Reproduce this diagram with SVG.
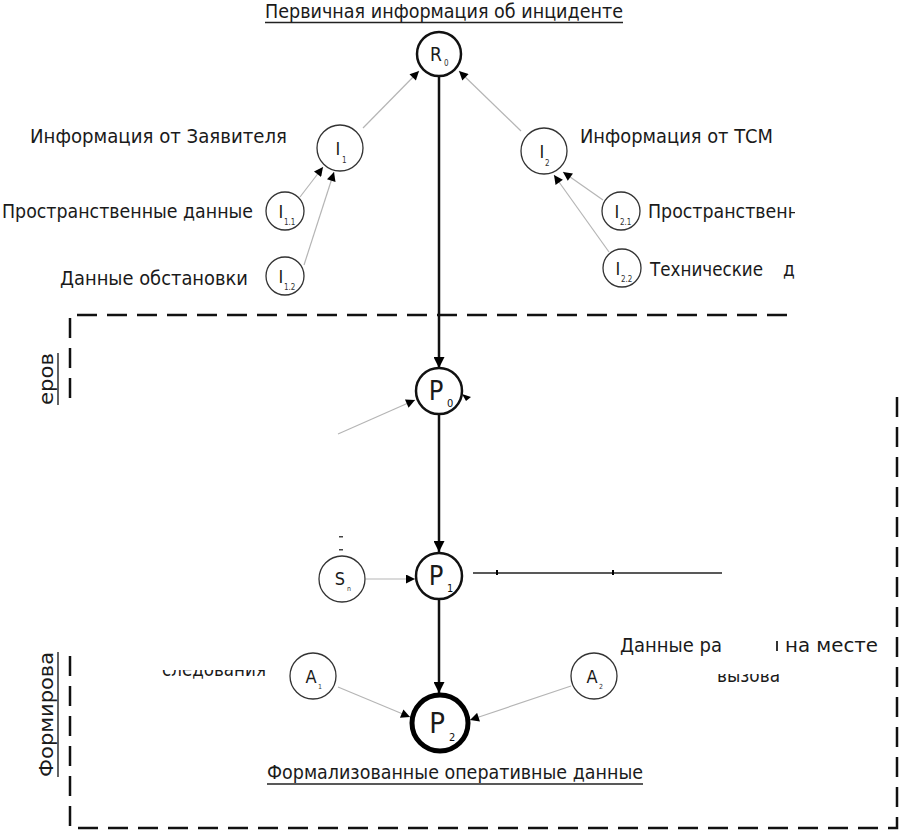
<svg xmlns="http://www.w3.org/2000/svg" width="901" height="832" viewBox="0 0 901 832">
<style>
text{font-family:"DejaVu Sans Condensed","DejaVu Sans","Liberation Sans",sans-serif;fill:#1a1a1a}
.lbl{font-size:19px}
.ttl{font-size:19px}
.main{fill:#fff;stroke:#111;stroke-width:2.5}
.sub{fill:#fff;stroke:#333;stroke-width:1.3}
.big{fill:#fff;stroke:#000;stroke-width:5}
.thin{stroke:#b5b5b5;stroke-width:1.2;fill:none}
.thick{stroke:#111;stroke-width:2.5;fill:none}
.dash{stroke:#111;stroke-width:2.5;fill:none;stroke-dasharray:20 10}
.nR{font-size:19px;text-anchor:middle}
.nP{font-size:27px;text-anchor:middle}
.nP2{font-size:29px;text-anchor:middle}
.ns{font-size:18px;text-anchor:middle}
.sc{font-size:8px;fill:#333}
.sP{font-size:11px;fill:#111}
.sA{font-size:7px;fill:#333}
</style>
<defs>
<marker id="a" viewBox="0 0 10 10" refX="10" refY="5" markerWidth="11" markerHeight="9" markerUnits="userSpaceOnUse" orient="auto"><path d="M0,0 L10,5 L0,10 z" fill="#000"/></marker>
<marker id="b" viewBox="0 0 10 10" refX="10" refY="5" markerWidth="13" markerHeight="11" markerUnits="userSpaceOnUse" orient="auto"><path d="M0,0 L10,5 L0,10 z" fill="#000"/></marker>
<clipPath id="cr"><rect x="0" y="0" width="795" height="832"/></clipPath>
<clipPath id="c1"><rect x="150" y="670" width="130" height="20"/></clipPath>
<clipPath id="c2"><rect x="700" y="674" width="100" height="20"/></clipPath>
</defs>

<g id="frames">
<path class="dash" d="M787,315 H70 V405"/>
<path class="dash" d="M897,397 V828 H70 V655"/>
</g>

<g id="connectors">
<line class="thin" x1="363" y1="128" x2="419" y2="71" marker-end="url(#a)"/>
<line class="thin" x1="521" y1="131" x2="459" y2="71" marker-end="url(#a)"/>
<line class="thin" x1="300" y1="197" x2="323" y2="167" marker-end="url(#a)"/>
<line class="thin" x1="304" y1="265" x2="334" y2="172" marker-end="url(#a)"/>
<line class="thin" x1="603" y1="200" x2="563" y2="172" marker-end="url(#a)"/>
<line class="thin" x1="609" y1="252" x2="554" y2="175" marker-end="url(#a)"/>
<line class="thick" x1="439" y1="76" x2="439" y2="368" marker-end="url(#b)"/>
<line class="thin" x1="338" y1="434" x2="415" y2="400" marker-end="url(#a)"/>
<path d="M471,397 l-9,-3 l4,7 z" fill="#000"/>
<line class="thick" x1="439" y1="415" x2="439" y2="552" marker-end="url(#b)"/>
<line class="thin" x1="366" y1="579" x2="415" y2="579" marker-end="url(#a)"/>
<line stroke="#222" stroke-width="1.6" x1="473" y1="573" x2="722" y2="573"/>
<line stroke="#000" stroke-width="2" x1="497" y1="570" x2="497" y2="575"/>
<line stroke="#000" stroke-width="2" x1="613" y1="570" x2="613" y2="575"/>
<line class="thick" x1="439" y1="600" x2="439" y2="693" marker-end="url(#b)"/>
<line class="thin" x1="338" y1="687" x2="410" y2="717" marker-end="url(#a)"/>
<line class="thin" x1="571" y1="686" x2="470" y2="720" marker-end="url(#a)"/>
</g>

<g id="title">
<text class="ttl" x="265" y="18" textLength="358" lengthAdjust="spacingAndGlyphs">Первичная информация об инциденте</text>
<line x1="265" y1="22.5" x2="623" y2="22.5" stroke="#222" stroke-width="1.4"/>
</g>

<g id="R0"><circle class="main" cx="439" cy="54" r="22"/><text class="nR" x="436" y="61">R</text><text class="sc" x="444" y="66">0</text></g>

<g id="I1"><circle class="sub" cx="340" cy="148" r="23"/><text class="ns" x="338" y="155">I</text><text class="sc" x="342" y="163">1</text>
<text class="lbl" x="30" y="143" textLength="257" lengthAdjust="spacingAndGlyphs">Информация от Заявителя</text></g>
<g id="I11"><circle class="sub" cx="285" cy="211" r="19"/><text class="ns" x="281" y="218">I</text><text class="sc" x="284" y="225">1.1</text>
<text class="lbl" x="2" y="218" textLength="251" lengthAdjust="spacingAndGlyphs">Пространственные данные</text></g>
<g id="I12"><circle class="sub" cx="285" cy="276" r="19"/><text class="ns" x="281" y="283">I</text><text class="sc" x="284" y="290">1.2</text>
<text class="lbl" x="60" y="285" textLength="188" lengthAdjust="spacingAndGlyphs">Данные обстановки</text></g>

<g id="I2"><circle class="sub" cx="544" cy="151" r="23"/><text class="ns" x="542" y="158">I</text><text class="sc" x="545" y="166">2</text>
<text class="lbl" x="580" y="143" textLength="193" lengthAdjust="spacingAndGlyphs">Информация от ТСМ</text></g>
<g id="I21"><circle class="sub" cx="621" cy="211" r="19"/><text class="ns" x="617" y="218">I</text><text class="sc" x="620" y="225">2.1</text>
<text class="lbl" x="648" y="218" textLength="251" lengthAdjust="spacingAndGlyphs" clip-path="url(#cr)">Пространственные данные</text></g>
<g id="I22"><circle class="sub" cx="622" cy="268" r="19"/><text class="ns" x="618" y="275">I</text><text class="sc" x="621" y="282">2.2</text>
<g clip-path="url(#cr)"><text class="lbl" x="650" y="276" textLength="113" lengthAdjust="spacingAndGlyphs">Технические</text><text class="lbl" x="783" y="276">данные</text></g></g>

<g id="side1">
<text class="ttl" transform="translate(53,405) rotate(-90)" textLength="52" lengthAdjust="spacingAndGlyphs">еров</text>
<line x1="58" y1="353" x2="58" y2="405" stroke="#222" stroke-width="1.4"/>
</g>

<g id="P0"><circle class="main" cx="439" cy="391" r="23"/><text class="nP" x="436" y="400">P</text><text class="sP" x="447" y="407">0</text></g>

<g id="Sn"><circle class="sub" cx="342" cy="579" r="23"/><text class="ns" x="340" y="585">S</text><text class="sA" x="347" y="591">n</text>
<rect x="339" y="536" width="4" height="1.5" fill="#444"/><rect x="339" y="549" width="4" height="1.5" fill="#444"/></g>

<g id="P1"><circle class="main" cx="439" cy="576" r="23"/><text class="nP" x="436" y="585">P</text><text class="sP" x="447" y="592">1</text></g>

<g id="side2">
<text class="ttl" transform="translate(53,777) rotate(-90)" textLength="125" lengthAdjust="spacingAndGlyphs">Формирова</text>
<line x1="58" y1="652" x2="58" y2="777" stroke="#222" stroke-width="1.4"/>
</g>

<g id="A1"><circle class="sub" cx="313" cy="676" r="23"/><text class="ns" x="311" y="683">A</text><text class="sA" x="318" y="689">1</text>
<text class="lbl" x="162" y="676" textLength="104" lengthAdjust="spacingAndGlyphs" clip-path="url(#c1)">следования</text></g>

<g id="A2"><circle class="sub" cx="594" cy="676" r="23"/><text class="ns" x="592" y="683">A</text><text class="sA" x="599" y="689">2</text></g>

<g id="labelR">
<text class="lbl" x="620" y="652" textLength="102" lengthAdjust="spacingAndGlyphs">Данные ра</text>
<text class="lbl" x="785" y="652" textLength="93" lengthAdjust="spacingAndGlyphs">на месте</text>
<rect x="776" y="641" width="2" height="10" fill="#333"/>
<text class="lbl" x="717" y="682" textLength="63" lengthAdjust="spacingAndGlyphs" clip-path="url(#c2)">вызова</text>
</g>

<g id="P2"><circle class="big" cx="440" cy="723" r="28"/><text class="nP2" x="437" y="733">P</text><text class="sP" x="449" y="741">2</text></g>

<g id="bottomTitle">
<text class="ttl" x="267" y="779" textLength="376" lengthAdjust="spacingAndGlyphs">Формализованные оперативные данные</text>
<line x1="267" y1="784" x2="643" y2="784" stroke="#222" stroke-width="1.4"/>
</g>
</svg>
